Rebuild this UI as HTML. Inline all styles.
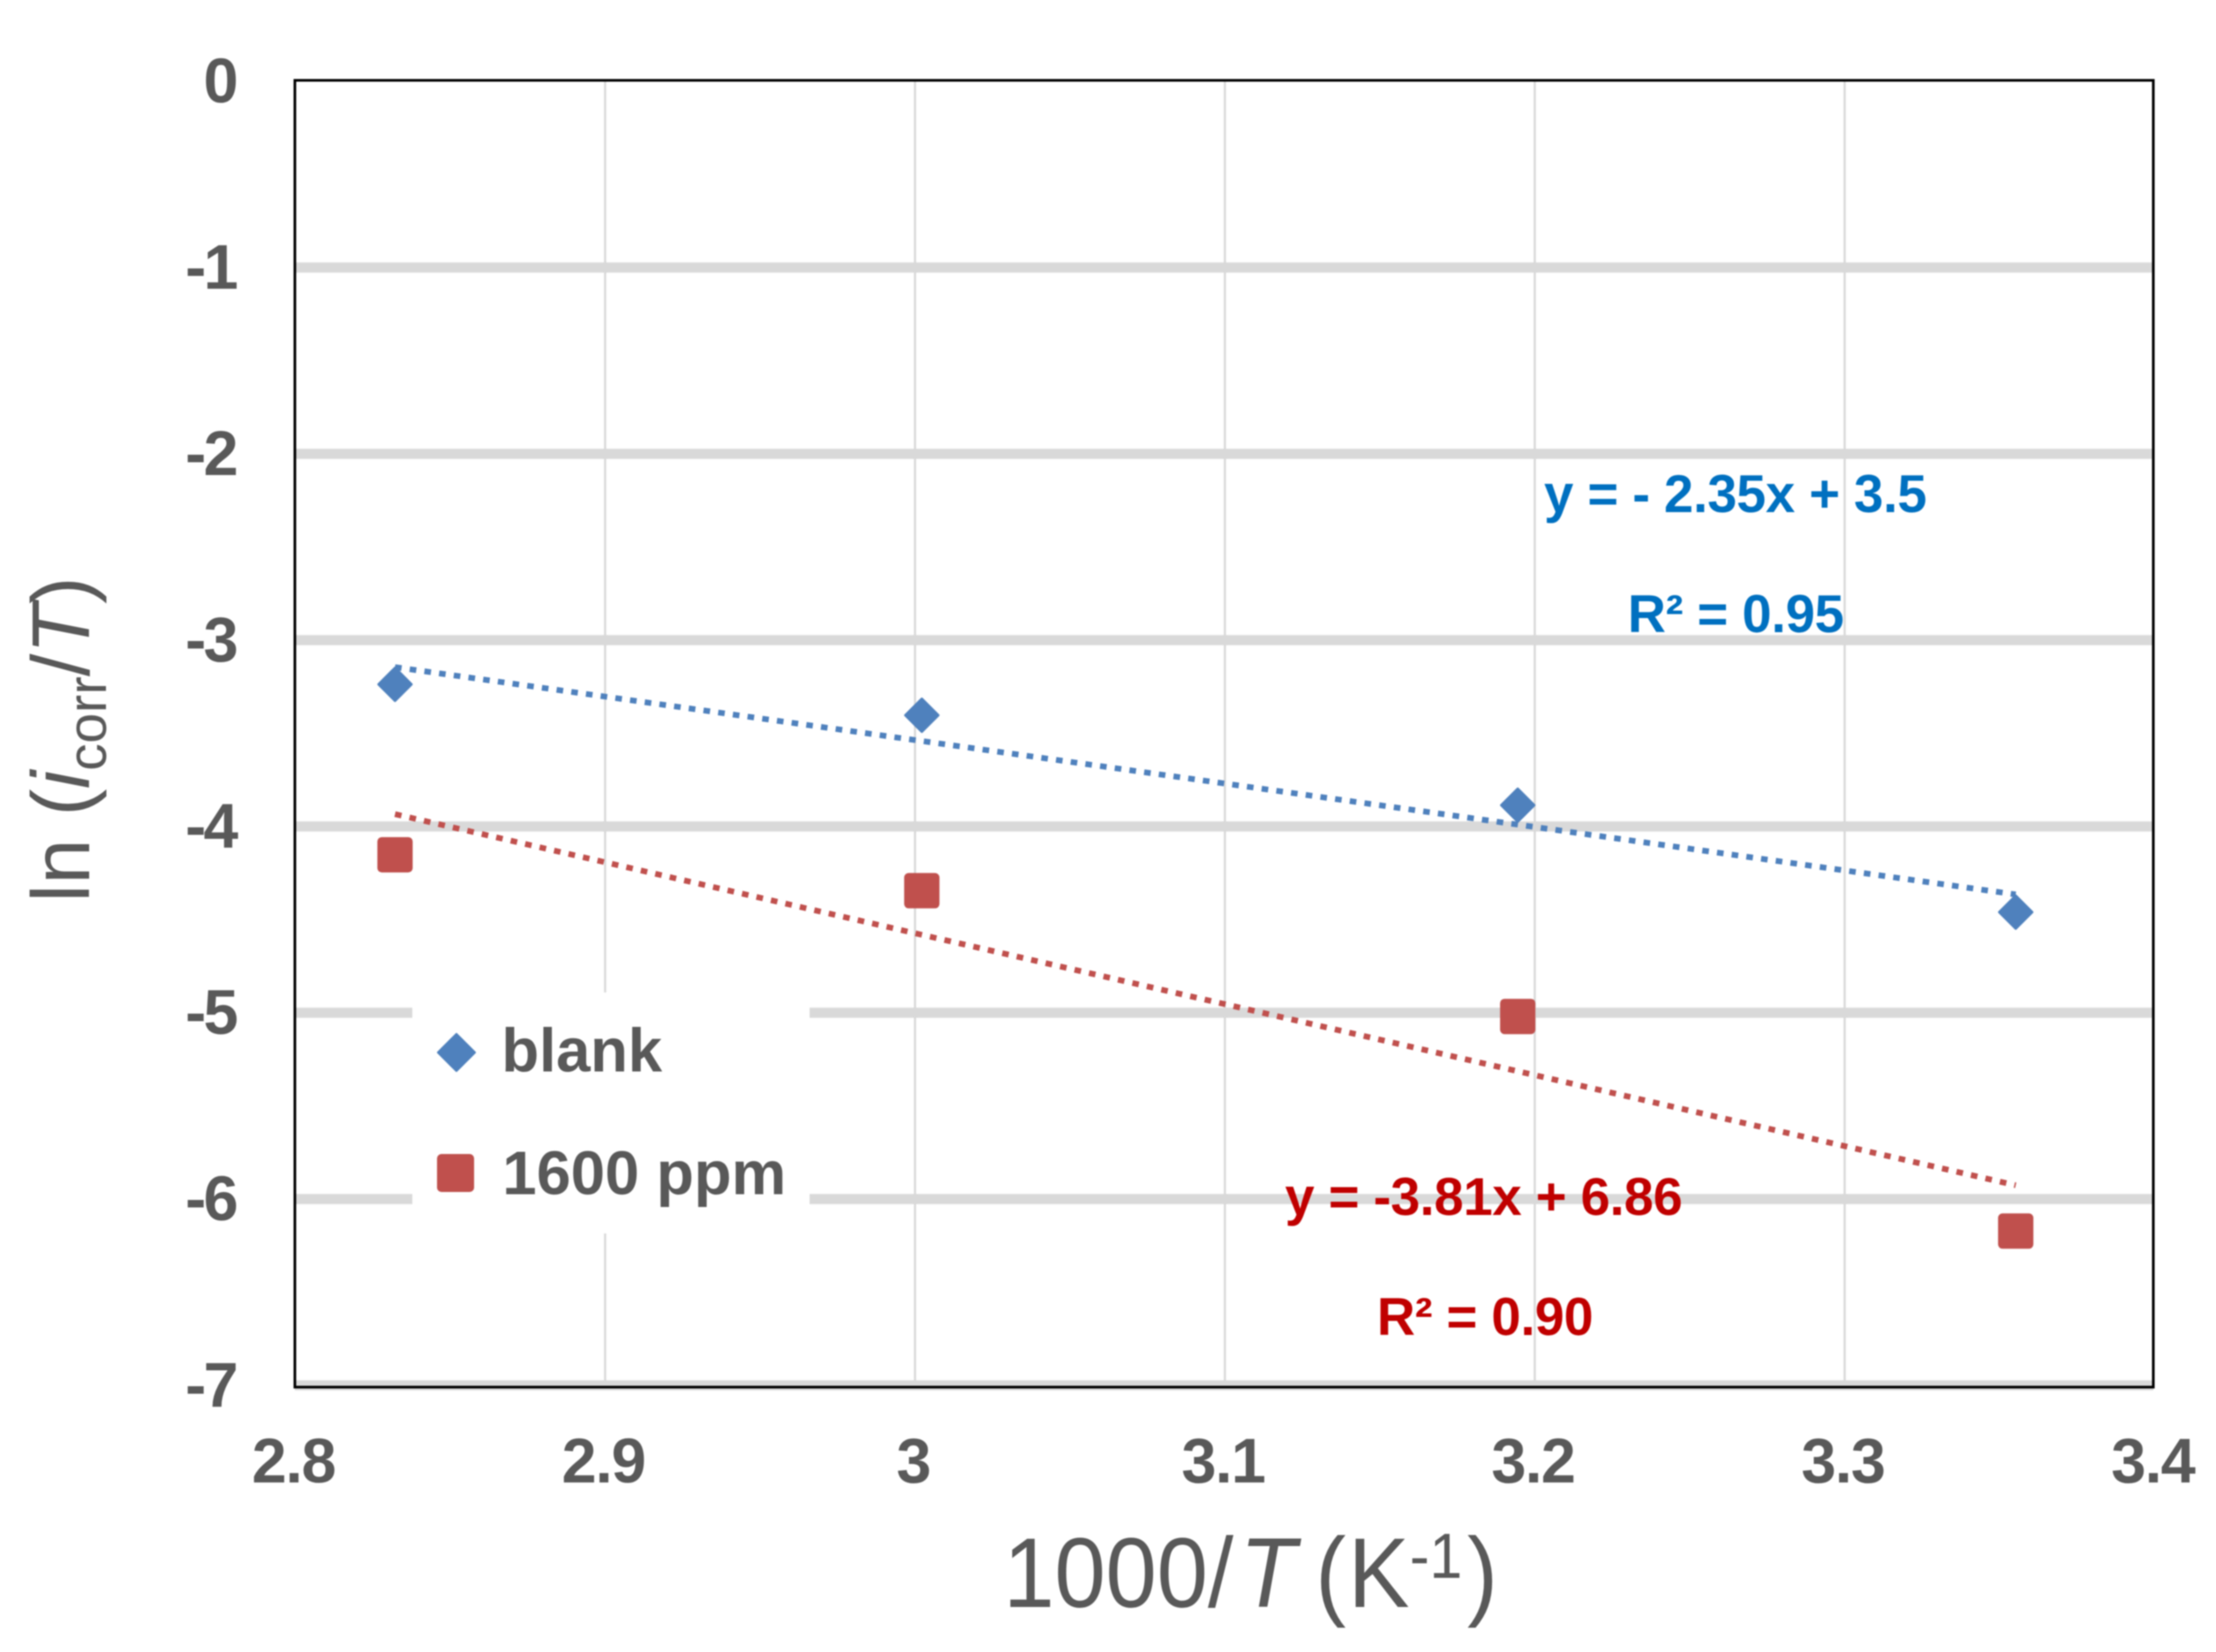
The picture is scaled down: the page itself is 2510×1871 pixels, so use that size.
<!DOCTYPE html>
<html>
<head>
<meta charset="utf-8">
<style>
html,body{margin:0;padding:0;background:#fff;width:2510px;height:1871px;overflow:hidden}
svg{display:block;filter:blur(0.7px)}
text{font-family:"Liberation Sans",Arial,sans-serif}
.tick{font-size:71px;font-weight:bold;fill:#595959;letter-spacing:-1.5px}
.tick-y{letter-spacing:-3px}
.leg{font-size:69.7px;font-weight:bold;fill:#595959}
.eq{font-size:60px;font-weight:bold;letter-spacing:-0.42px}
.title{font-size:92.5px;fill:#595959}
</style>
</head>
<body>
<svg id="chart" width="2510" height="1871" viewBox="0 0 2510 1871" xmlns="http://www.w3.org/2000/svg">
  <g id="grid-v"></g>
  <g id="grid-h"></g>
  <g id="trends"></g>
  <rect x="467" y="1124" width="450" height="273" fill="#fff"/>
  <rect x="334" y="91" width="2105" height="1480" fill="none" stroke="#000" stroke-width="3"/>
  <g id="ticks-y"></g>
  <g id="ticks-x"></g>
  <g id="marks"></g>

  <g>
    <g>
      <path d="M517 1171.500 L537.500 1192 L517 1212.500 L496.500 1192 Z" fill="#4f81bd" stroke="#4f81bd" stroke-width="3" stroke-linejoin="round"/>
      <text class="leg" x="568" y="1213.500">blank</text>
    </g>
    <g>
      <rect x="495" y="1307" width="42" height="43" rx="5" fill="#c0504d"/>
      <text class="leg" x="569" y="1352.500">1600 ppm</text>
    </g>
  </g>

  <text class="eq" fill="#0070c0" x="1965.500" y="580" text-anchor="middle">y = - 2.35x + 3.5</text>
  <text class="eq" fill="#0070c0" x="1966" y="716" text-anchor="middle">R² = 0.95</text>
  <text class="eq" fill="#c00000" x="1680.500" y="1376" text-anchor="middle">y = -3.81x + 6.86</text>
  <text class="eq" fill="#c00000" x="1682" y="1512" text-anchor="middle">R² = 0.90</text>

  <text class="title" transform="translate(101 1022) rotate(-90)">ln (<tspan font-style="italic">i</tspan><tspan font-size="62" dy="19">corr</tspan><tspan dy="-19">/</tspan><tspan font-style="italic">T</tspan>)</text>
  <text class="title" transform="translate(0 1820) scale(0.93 1)" style="font-size:112px"><tspan x="1222">1000/</tspan><tspan x="1510" font-style="italic">T</tspan> <tspan x="1602">(</tspan><tspan x="1642">K</tspan><tspan x="1717" font-size="72" dy="-33">-1</tspan><tspan x="1787" dy="33">)</tspan></text>
</svg>
<script>
// Axis tick labels
var xTicks = [2.8, 2.9, 3, 3.1, 3.2, 3.3, 3.4];
var yTicks = [0, -1, -2, -3, -4, -5, -6, -7];

// Series values
var pointX = [2.8322, 3.0022, 3.1945, 3.3552];
var blankY = [-3.237, -3.403, -3.886, -4.46];
var ppm1600Y = [-4.152, -4.345, -5.02, -6.172];

// Trendline end points
var trendX = [2.8322, 3.3552];
var blankTrendY = [-3.145, -4.365];
var ppm1600TrendY = [-3.934, -5.926];

var NS = 'http://www.w3.org/2000/svg';
function sx(v) { return 334.4 + (v - 2.8) * 3510; }
function sy(v) { return 92 - v * 211; }
function make(tag, parent, attrs) {
  var el = document.createElementNS(NS, tag);
  for (var k in attrs) { el.setAttribute(k, attrs[k]); }
  document.getElementById(parent).appendChild(el);
  return el;
}

xTicks.slice(1, -1).forEach(function (t) {
  var line = make('line', 'grid-v', { x1: sx(t), x2: sx(t), y1: 91, y2: 1571, stroke: '#d9d9d9', 'stroke-width': 2.5 });
  
  
});
yTicks.slice(1).forEach(function (t) {
  var line = make('line', 'grid-h', { x1: 334, x2: 2439, y1: sy(t), y2: sy(t), stroke: '#d9d9d9', 'stroke-width': 11.5 });
  
  
});
yTicks.forEach(function (t) {
  var label = make('text', 'ticks-y', { x: 267, y: sy(t) + 24, 'text-anchor': 'end', 'class': 'tick tick-y' });
  label.textContent = String(t);
  
  
});
xTicks.forEach(function (t) {
  var label = make('text', 'ticks-x', { x: sx(t) - 2, y: 1679, 'text-anchor': 'middle', 'class': 'tick' });
  label.textContent = String(t);
  
  
});

var blankTrend = make('line', 'trends', { x1: sx(trendX[0]), x2: sx(trendX[1]), y1: sy(blankTrendY[0]), y2: sy(blankTrendY[1]), stroke: '#4f81bd', 'stroke-width': 6.5, 'stroke-dasharray': '7.5 9.3' });


var redTrend = make('line', 'trends', { x1: sx(trendX[0]), x2: sx(trendX[1]), y1: sy(ppm1600TrendY[0]), y2: sy(ppm1600TrendY[1]), stroke: '#c0504d', 'stroke-width': 6.5, 'stroke-dasharray': '7.5 9.3' });



pointX.forEach(function (x, i) {
  var cx = sx(x), cy = sy(blankY[i]);
  var d = 'M' + cx + ' ' + (cy - 18.5) + ' L' + (cx + 18.5) + ' ' + cy + ' L' + cx + ' ' + (cy + 18.5) + ' L' + (cx - 18.5) + ' ' + cy + ' Z';
  var diamond = make('path', 'marks', { d: d, fill: '#4f81bd', stroke: '#4f81bd', 'stroke-width': 3, 'stroke-linejoin': 'round' });
  
  
});
pointX.forEach(function (x, i) {
  var cx = sx(x), cy = sy(ppm1600Y[i]);
  var square = make('rect', 'marks', { x: cx - 20, y: cy - 20, width: 40, height: 40, rx: 5, fill: '#c0504d' });
  
  
});
</script>
</body>
</html>
